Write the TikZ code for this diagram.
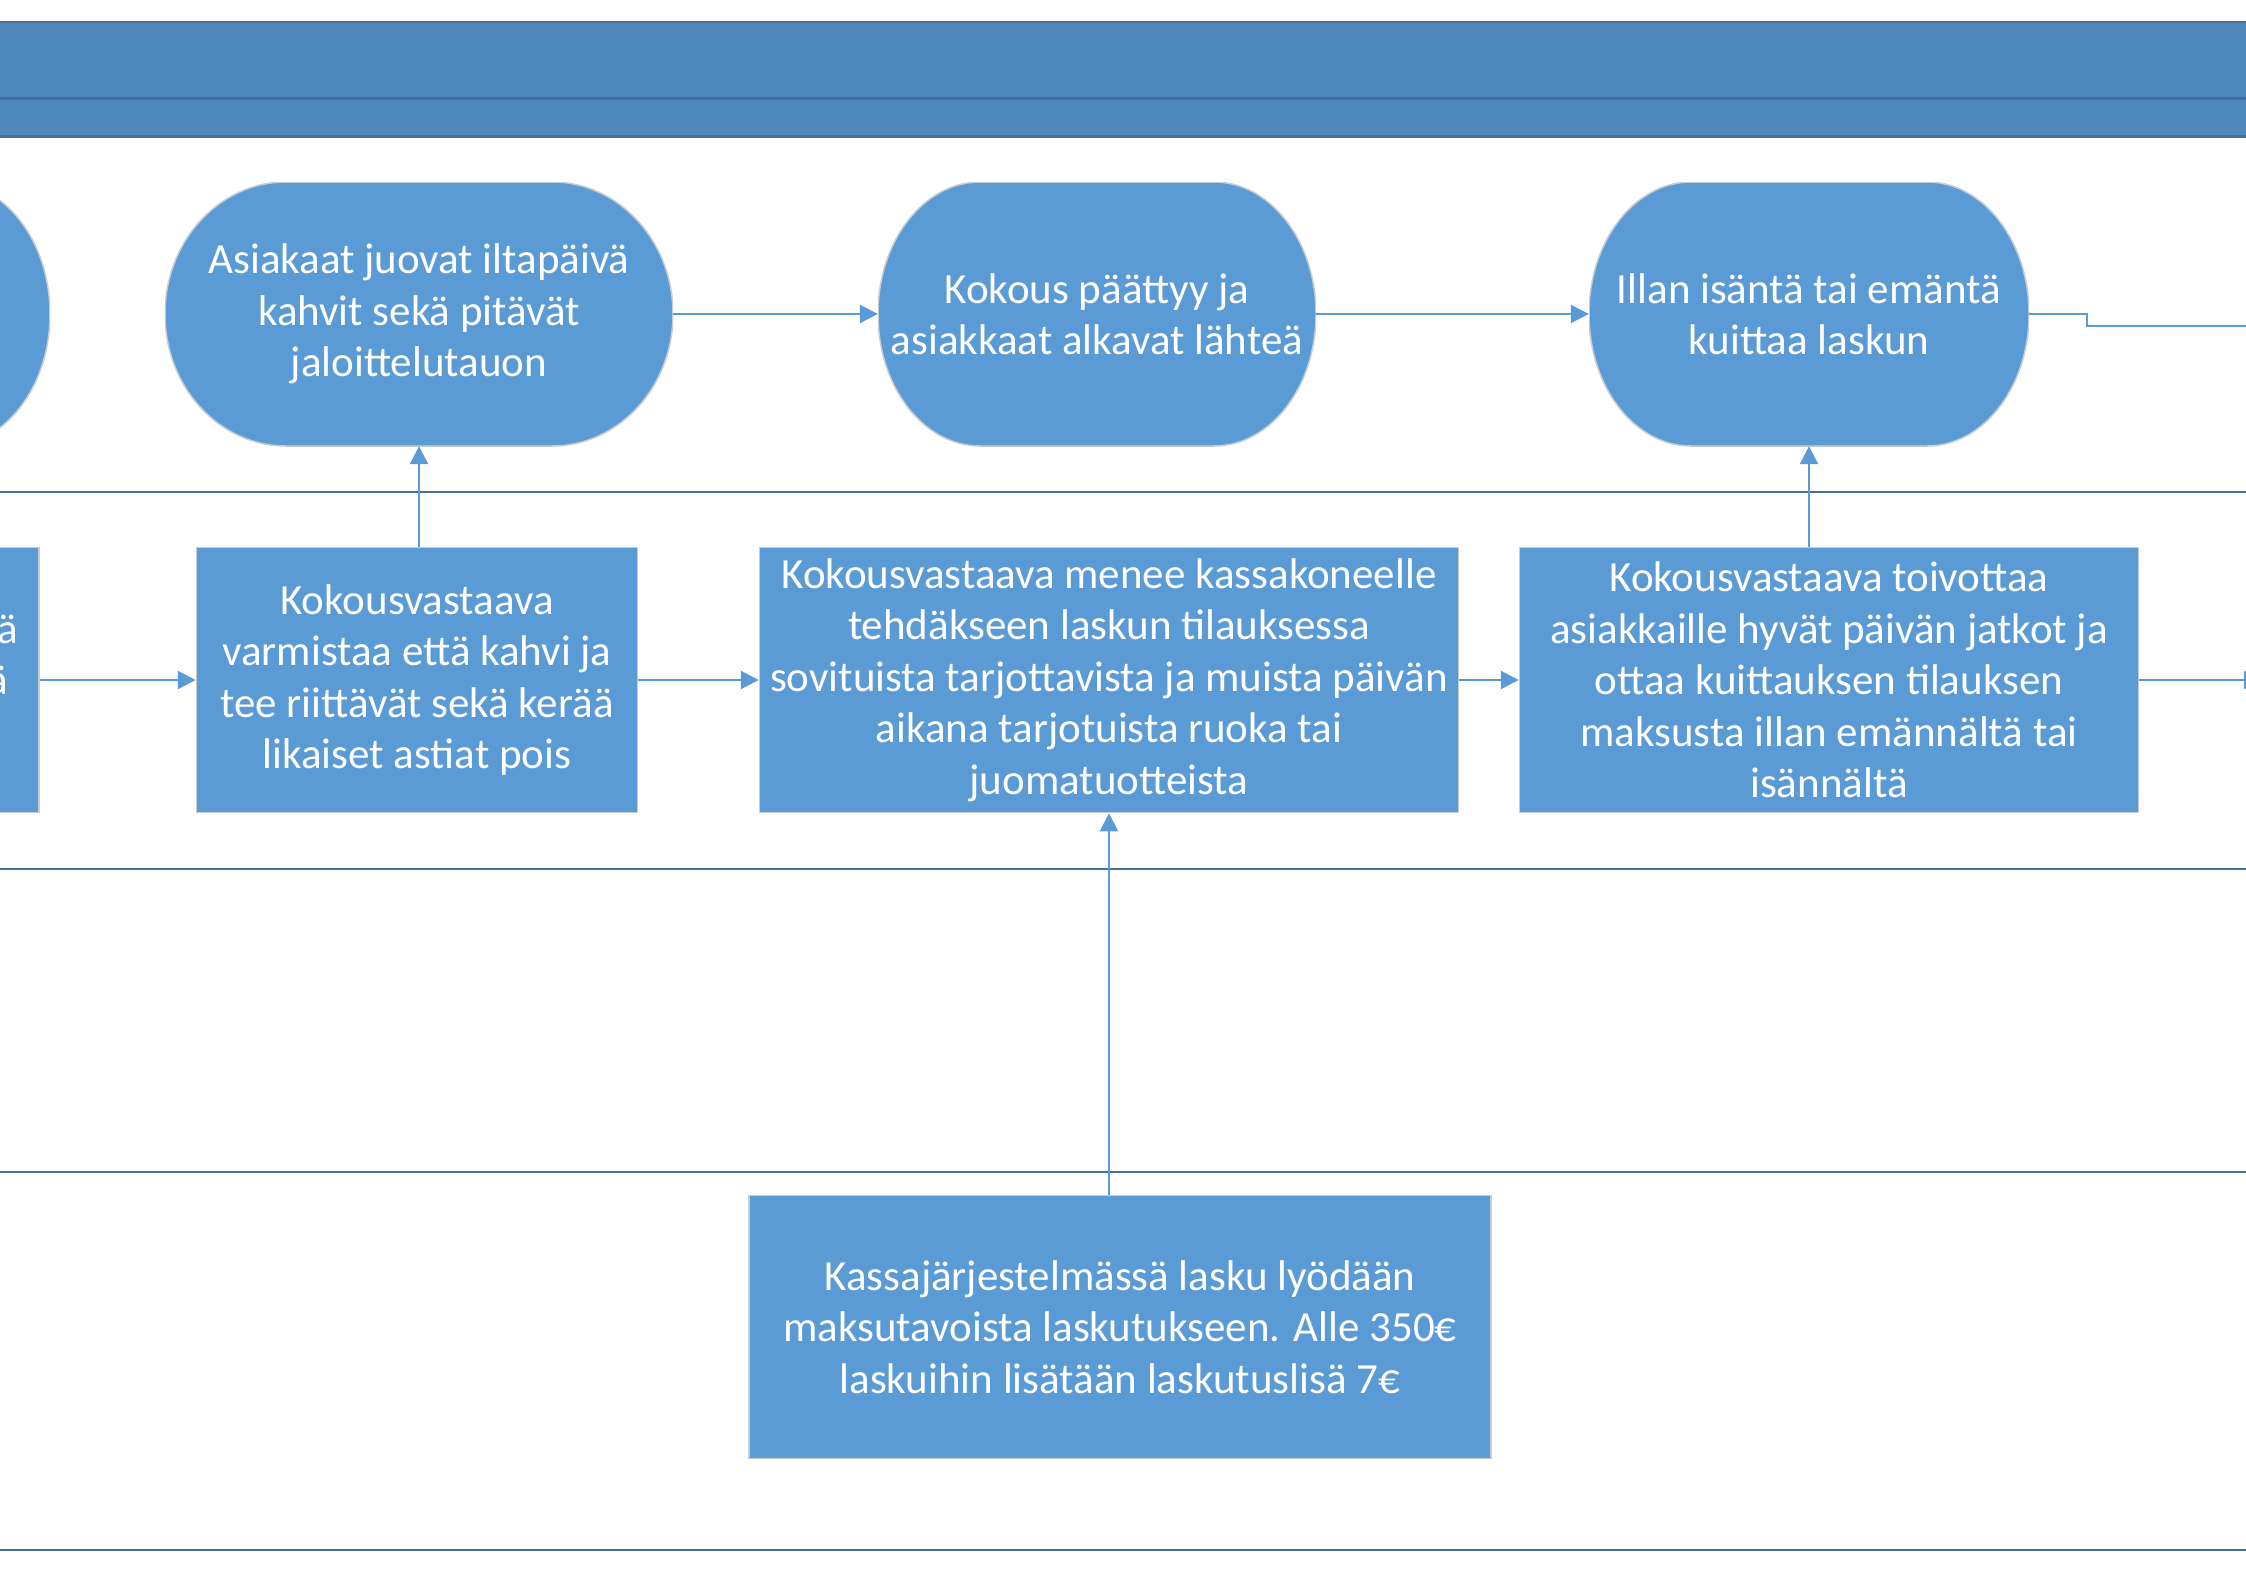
\documentclass[tikz,border=0pt]{standalone}
\usepackage{fontspec}
\setmainfont{Carlito}
\usetikzlibrary{arrows.meta,calc}
\definecolor{boxblue}{HTML}{5B9BD5}
\definecolor{lanecol}{HTML}{41719C}
\definecolor{headfill}{HTML}{4F88BB}
\definecolor{edgegray}{HTML}{C5CCD4}
\tikzset{
  txt/.style={text=white, font=\fontsize{43}{51.4}\selectfont, align=center, inner sep=0pt},
  procbox/.style={txt, rectangle, fill=boxblue, draw=edgegray, line width=1.5pt},
  termbox/.style={txt, rectangle, draw=none,
    path picture={
      \fill[boxblue, draw=edgegray, line width=1.5pt]
        ([xshift=-#1]path picture bounding box.north east)
        arc[start angle=90, end angle=-90, x radius=#1, y radius=132pt]
        -- ([xshift=#1]path picture bounding box.south west)
        arc[start angle=270, end angle=90, x radius=#1, y radius=132pt]
        -- cycle;}},
  flow/.style={draw=boxblue, line width=2.2pt, -{Triangle[length=18pt,width=18pt]}},
  plainflow/.style={draw=boxblue, line width=2.2pt},
  lane/.style={draw=lanecol, line width=2.5pt},
}
\begin{document}
\begin{tikzpicture}[x=1pt, y=-1pt]
\useasboundingbox (0,0) rectangle (2246,1588);
\clip (0,0) rectangle (2246,1588);
\fill[white] (0,0) rectangle (2246,1588);

% header band
\fill[headfill] (-10,22) rectangle (2260,136);
\draw[lanecol, line width=1.2pt] (-10,22) -- (2260,22);
\draw[lanecol, line width=3pt] (-10,98) -- (2260,98);
\draw[lanecol, line width=3pt] (-10,136) -- (2260,136);

% lane separators
\draw[lane] (-10,492) -- (2260,492);
\draw[lane] (-10,869) -- (2260,869);
\draw[lane] (-10,1172) -- (2260,1172);
\draw[lane] (-10,1550) -- (2260,1550);

% upper lane: terminators
\node[termbox=102pt, minimum width=440pt, minimum height=264pt] (t0) at (-170,314) {};
\node[termbox=121pt, minimum width=508pt, minimum height=264pt] (asi) at (419,314)
  {Asiakaat juovat iltapäivä\\kahvit sekä pitävät\\jaloittelutauon};
\node[termbox=102pt, minimum width=438pt, minimum height=264pt] (kok) at (1097,314)
  {Kokous päättyy ja\\asiakkaat alkavat lähteä};
\node[termbox=102pt, minimum width=440pt, minimum height=264pt] (ill) at (1809,314)
  {Illan isäntä tai emäntä\\kuittaa laskun};

% middle lane: process boxes
\node[procbox, minimum width=620pt, minimum height=265pt] (b1) at (-271,680) {};
\node[txt, anchor=base east] (f1) at (18,643) {ä};
\node[txt, anchor=base east] (f2) at (8,694) {ä};
\node[procbox, minimum width=441pt, minimum height=265pt] (b2) at (417,680)
  {Kokousvastaava\\varmistaa että kahvi ja\\tee riittävät sekä kerää\\likaiset astiat pois};
\node[procbox, minimum width=699pt, minimum height=265pt] (b3) at (1109,680)
  {Kokousvastaava menee kassakoneelle\\tehdäkseen laskun tilauksessa\\sovituista tarjottavista ja muista päivän\\aikana tarjotuista ruoka tai\\juomatuotteista};
\node[procbox, minimum width=619pt, minimum height=265pt] (b4) at (1829,680)
  {Kokousvastaava toivottaa\\asiakkaille hyvät päivän jatkot ja\\ottaa kuittauksen tilauksen\\maksusta illan emännältä tai\\isännältä};

% lower lane
\node[procbox, minimum width=742pt, minimum height=263pt] (b5) at (1120,1327)
  {Kassajärjestelmässä lasku lyödään\\maksutavoista laskutukseen. Alle 350€\\laskuihin lisätään laskutuslisä 7€};

% off-page continuation points
\coordinate (outA) at (2262,326);
\coordinate (outB) at (2262,680);

% connectors
\draw[flow] (asi.east) -- (kok.west);
\draw[flow] (kok.east) -- (ill.west);
\draw[plainflow] (ill.east) -- ++(58,0) -- ++(0,12) -- (outA);
\draw[flow] (b1.east) -- (b2.west);
\draw[flow] (b2.east) -- (b3.west);
\draw[flow] (b3.east) -- (b4.west);
\draw[flow] (b4.east) -- (outB);
\draw[flow] (b2.north -| asi.south) -- (asi.south);
\draw[flow] (b4.north -| ill.south) -- (ill.south);
\draw[flow] (b5.north -| b3.south) -- (b3.south);
\end{tikzpicture}
\end{document}
